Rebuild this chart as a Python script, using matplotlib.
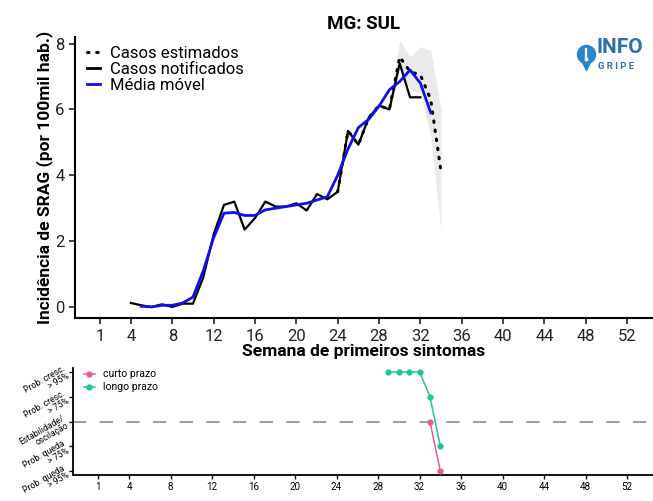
import matplotlib
matplotlib.use("Agg")
import matplotlib.pyplot as plt
from matplotlib.lines import Line2D

plt.rcParams["font.family"] = ["Roboto", "DejaVu Sans"]

# --- data ---
weeks_notif = list(range(4, 33))
notificados = [0.12, 0.05, 0.0, 0.08, 0.0, 0.1, 0.1, 0.9, 2.2, 3.1, 3.2, 2.35, 2.7, 3.2,
               3.05, 3.05, 3.15, 2.93, 3.43, 3.27, 3.5, 5.35, 4.93, 5.75, 6.12, 6.0, 7.4,
               6.37, 6.37]

weeks_media = list(range(5, 34))
media_movel = [0.02, 0.0, 0.05, 0.05, 0.12, 0.3, 1.1, 2.1, 2.85, 2.87, 2.78, 2.78, 2.95,
               3.0, 3.05, 3.1, 3.15, 3.25, 3.35, 4.0, 4.8, 5.45, 5.7, 6.1, 6.6, 6.85, 7.2,
               6.8, 5.9]

weeks_est = list(range(24, 35))
estimados = [3.5, 5.35, 4.93, 5.75, 6.12, 6.0, 7.6, 7.15, 7.05, 6.3, 4.1]

weeks_ci = [29, 30, 31, 32, 33, 34]
ci_low = [6.0, 7.2, 6.6, 6.5, 5.2, 2.3]
ci_high = [6.2, 8.1, 7.6, 7.9, 7.8, 6.0]

xticks = [1, 4, 8, 12, 16, 20, 24, 28, 32, 36, 40, 44, 48, 52]

weeks_curto = [33, 34]
curto = [0, -2]
weeks_longo = [29, 30, 31, 32, 33, 34]
longo = [2, 2, 2, 2, 1, -1]
nivel_labels = ["Prob. queda\n> 95%", "Prob. queda\n> 75%", "Estabilidade/\noscilação",
                "Prob. cresc.\n> 75%", "Prob. cresc.\n> 95%"]
niveis = [-2, -1, 0, 1, 2]

fig = plt.figure(figsize=(6.53, 5.01), dpi=100)

# --- top panel ---
ax = fig.add_axes([0.115, 0.365, 0.885, 0.561])
ax.fill_between(weeks_ci, ci_low, ci_high, color="#c4c4cc", alpha=0.35, linewidth=0)
ax.plot(weeks_notif, notificados, color="black", lw=1.6, zorder=3)
ax.plot(weeks_est, estimados, color="black", lw=2.2, linestyle=(0, (0.5, 2.5)),
        dash_capstyle="round", zorder=4)
ax.plot(weeks_media, media_movel, color="#1010ee", lw=2.0, zorder=5)

ax.set_xlim(-1.4, 54.5)
ax.set_ylim(-0.34, 8.2)
ax.set_xticks(xticks)
ax.set_yticks([0, 2, 4, 6, 8])
ax.tick_params(labelsize=12, length=4, width=1.2, colors="#222222")
for s in ["top", "right"]:
    ax.spines[s].set_visible(False)
for s in ["left", "bottom"]:
    ax.spines[s].set_linewidth(1.5)
ax.set_xlabel("Semana de primeiros sintomas", fontsize=12.5, fontweight="bold", labelpad=0)
ax.set_ylabel("Incidência de SRAG (por 100mil hab.)", fontsize=12.5, fontweight="bold",
              labelpad=2)
ax.set_title("MG: SUL", fontsize=13.5, fontweight="bold", pad=6)

handles = [
    Line2D([], [], color="black", lw=2.2, linestyle=(0, (0.5, 2.5)), dash_capstyle="round"),
    Line2D([], [], color="black", lw=2),
    Line2D([], [], color="#1010ee", lw=2),
]
ax.legend(handles, ["Casos estimados", "Casos notificados", "Média móvel"],
          loc="upper left", bbox_to_anchor=(0.0, 1.01), frameon=False, fontsize=12,
          handlelength=0.8, handletextpad=0.6, labelspacing=0.05, borderaxespad=0.3)

# logo (pin + text)
pin = "#2b86c5"
fig.add_artist(Line2D([0.897], [0.893], marker="o", ms=13, color=pin,
                      transform=fig.transFigure))
fig.add_artist(Line2D([0.897], [0.872], marker="v", ms=8, color=pin,
                      transform=fig.transFigure))
fig.add_artist(Line2D([0.897, 0.897], [0.887, 0.902], color="white", lw=1.6,
                      transform=fig.transFigure))
fig.add_artist(Line2D([0.897], [0.882], marker="o", ms=1.8, color="white",
                      transform=fig.transFigure))
fig.text(0.913, 0.905, "INFO", color="#2b6fb0", fontsize=15, fontweight="bold",
         ha="left", va="center")
fig.text(0.916, 0.868, "G R I P E", color="#2b6fb0", fontsize=6.8, fontweight="bold",
         ha="left", va="center")

# --- bottom panel ---
ax2 = fig.add_axes([0.112, 0.052, 0.888, 0.213])
ax2.axhline(0, color="#8a8a8a", lw=1.2, linestyle=(0, (8, 8)), zorder=1)
ax2.plot(weeks_curto, curto, color="#e8607f", lw=1.1, marker="o", ms=3.5, zorder=3,
         label="curto prazo")
ax2.plot(weeks_longo, longo, color="#1ec88a", lw=1.1, marker="o", ms=3.5, zorder=2,
         label="longo prazo")
ax2.set_xlim(-1.4, 54.5)
ax2.set_ylim(-2.15, 2.15)
ax2.set_xticks(xticks)
ax2.set_yticks(niveis)
ax2.set_yticklabels(nivel_labels, rotation=30, fontsize=6.2, ha="right", va="center",
                    linespacing=0.9, rotation_mode="anchor", multialignment="right")
ax2.tick_params(axis="x", labelsize=7, length=3, width=1, pad=2)
ax2.tick_params(axis="y", length=3, width=1, pad=2)
for s in ["top", "right"]:
    ax2.spines[s].set_visible(False)
for s in ["left", "bottom"]:
    ax2.spines[s].set_linewidth(1.3)
ax2.legend(loc="upper left", frameon=False, fontsize=7.5, handlelength=1.0,
           handletextpad=0.8, labelspacing=0.3, borderaxespad=0.1,
           bbox_to_anchor=(0.01, 1.04))

fig.savefig("out.png", dpi=100)
